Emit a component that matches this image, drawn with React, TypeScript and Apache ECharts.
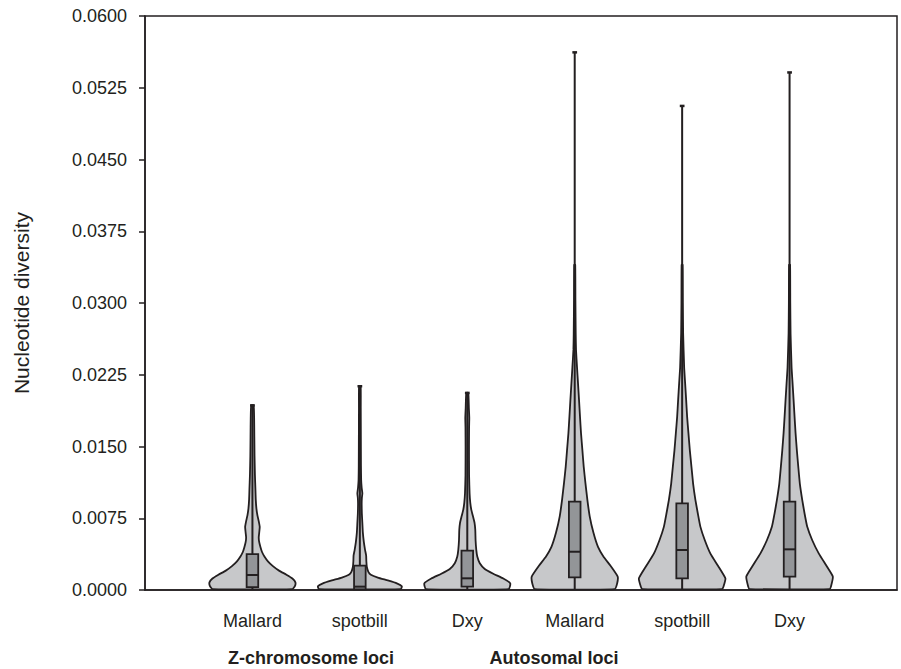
import { useEffect, useRef } from 'react';
import * as echarts from 'echarts';

// ---------- data ----------
const categories = ['Mallard', 'spotbill', 'Dxy', 'Mallard', 'spotbill', 'Dxy'];
const groupLabels = ['Z-chromosome loci', 'Autosomal loci'];
const yMin = 0;
const yMax = 0.06;
const yInterval = 0.0075;

// violin profiles: [nucleotide diversity, relative density]
const zMallardProfile: [number, number][] = [
  [0.0001, 40], [0.0004, 42.5], [0.0008, 43], [0.0012, 40], [0.0016, 34], [0.002, 27],
  [0.0025, 20.5], [0.003, 15.5], [0.0035, 12], [0.004, 9.5], [0.0045, 8], [0.005, 6.8],
  [0.0055, 6.3], [0.006, 6.8], [0.0066, 7.3], [0.0072, 6.3], [0.0078, 5], [0.0085, 4],
  [0.0095, 3.3], [0.0105, 3], [0.012, 2.5], [0.014, 2.1], [0.016, 1.9], [0.018, 1.7], [0.0193, 1.2],
];
const zSpotbillProfile: [number, number][] = [
  [0.0001, 41], [0.0004, 42], [0.0007, 37], [0.001, 28], [0.0013, 18], [0.0016, 11],
  [0.0019, 8.5], [0.0024, 7], [0.003, 6.5], [0.0036, 6.3], [0.0042, 5.2], [0.005, 4],
  [0.006, 3], [0.007, 2.5], [0.008, 2], [0.009, 1.8], [0.0096, 2], [0.0101, 2.5],
  [0.0107, 1.8], [0.0115, 1.3], [0.013, 1.1], [0.016, 1], [0.019, 0.9], [0.0213, 0.8],
];
const zDxyProfile: [number, number][] = [
  [0.0001, 41.5], [0.0007, 43], [0.0012, 36], [0.0017, 26], [0.0022, 17.5], [0.0028, 12.5],
  [0.0035, 10], [0.0042, 9], [0.0052, 8.3], [0.0063, 8], [0.007, 7.3], [0.0077, 5.7],
  [0.0084, 4], [0.0091, 3], [0.0101, 2.3], [0.012, 1.8], [0.015, 1.7], [0.017, 1.8],
  [0.018, 2], [0.019, 1.6], [0.0206, 1],
];
const aMallardProfile: [number, number][] = [
  [0.0001, 40], [0.0007, 42.5], [0.0014, 43], [0.0025, 36], [0.0035, 28.7], [0.0045, 23.3],
  [0.006, 18.7], [0.0077, 15], [0.0094, 12.7], [0.0112, 10.7], [0.0129, 9], [0.0146, 7.7],
  [0.0164, 6.3], [0.0181, 5.3], [0.0199, 4.3], [0.0216, 3.3], [0.0233, 2.3], [0.0251, 1.3],
  [0.0268, 1], [0.0303, 0.7], [0.034, 0.5],
];
const aSpotbillProfile: [number, number][] = [
  [0.0001, 40], [0.0004, 41.5], [0.0012, 43.3], [0.0025, 36], [0.0038, 28.3], [0.0052, 22.7],
  [0.0066, 18.3], [0.008, 15.7], [0.0094, 13.3], [0.0111, 11], [0.0129, 9.3], [0.0146, 7.7],
  [0.0164, 6.3], [0.0181, 5], [0.0199, 4], [0.0216, 3], [0.0233, 2], [0.0268, 1],
  [0.03, 0.7], [0.034, 0.5],
];
const aDxyProfile: [number, number][] = [
  [0.0001, 40], [0.0004, 41.5], [0.0014, 43.3], [0.0024, 37.7], [0.0038, 29.3], [0.0052, 22.7],
  [0.0066, 17.7], [0.008, 15], [0.0094, 12.7], [0.0111, 10.3], [0.0129, 8.7], [0.0146, 7.3],
  [0.0164, 6], [0.0181, 5], [0.0199, 4], [0.0216, 3], [0.0233, 2], [0.0268, 1],
  [0.03, 0.7], [0.034, 0.5],
];
const profiles = [zMallardProfile, zSpotbillProfile, zDxyProfile, aMallardProfile, aSpotbillProfile, aDxyProfile];

// box plot statistics
const boxMin = [0, 0, 0, 0, 0, 0];
const boxQ1 = [0.0003, 0.00007, 0.00035, 0.00133, 0.00122, 0.00139];
const boxMedian = [0.00157, 0.00035, 0.00122, 0.004, 0.00418, 0.00425];
const boxQ3 = [0.00376, 0.00254, 0.00411, 0.00923, 0.00906, 0.00923];
const boxMax = [0.0193, 0.0213, 0.0206, 0.0562, 0.0506, 0.0541];

// ---------- styling ----------
const INK = '#231f20';
const VIOLIN_FILL = '#c7c8ca';
const BOX_FILL = '#939598';
const FONT = 'Liberation Sans, Arial, Helvetica, sans-serif';
const DENSITY_SCALE = 0.4 / 43; // relative density -> x-axis units
const BOX_HALF = 0.054;
const CAP_HALF = 0.022;

export default function App() {
  const ref = useRef<HTMLDivElement>(null);
  useEffect(() => {
    if (!ref.current) return;
    const chart = echarts.init(ref.current, undefined, { renderer: 'svg' });

    const renderItem = (params: any, api: any) => {
      const idx = params.dataIndex;
      const pos = api.value(0);
      const prof = profiles[idx];
      const right = prof.map(([v, d]) => api.coord([pos + d * DENSITY_SCALE, v]));
      const left = prof.slice().reverse().map(([v, d]) => api.coord([pos - d * DENSITY_SCALE, v]));
      const points = right.concat(left);
      const pTop = api.coord([pos - BOX_HALF, boxQ3[idx]]);
      const pBot = api.coord([pos + BOX_HALF, boxQ1[idx]]);
      const med = api.value(1);
      const mL = api.coord([pos - BOX_HALF, med]);
      const mR = api.coord([pos + BOX_HALF, med]);
      const wTop = api.coord([pos, boxMax[idx]]);
      const wQ3 = api.coord([pos, boxQ3[idx]]);
      const wQ1 = api.coord([pos, boxQ1[idx]]);
      const wMin = api.coord([pos, boxMin[idx]]);
      const cL = api.coord([pos - CAP_HALF, boxMax[idx]]);
      const cR = api.coord([pos + CAP_HALF, boxMax[idx]]);
      return {
        type: 'group',
        children: [
          {
            type: 'polygon',
            shape: { points, smooth: 0.15 },
            style: { fill: VIOLIN_FILL, stroke: INK, lineWidth: 1.8 },
          },
          {
            type: 'line',
            shape: { x1: wQ3[0], y1: wQ3[1], x2: wTop[0], y2: wTop[1] },
            style: { stroke: INK, lineWidth: 2 },
          },
          {
            type: 'line',
            shape: { x1: wMin[0], y1: wMin[1], x2: wQ1[0], y2: wQ1[1] },
            style: { stroke: INK, lineWidth: 2 },
          },
          {
            type: 'line',
            shape: { x1: cL[0], y1: cL[1], x2: cR[0], y2: cR[1] },
            style: { stroke: INK, lineWidth: 2.5 },
          },
          {
            type: 'rect',
            shape: { x: pTop[0], y: pTop[1], width: pBot[0] - pTop[0], height: pBot[1] - pTop[1] },
            style: { fill: BOX_FILL, stroke: INK, lineWidth: 1.8 },
          },
          {
            type: 'line',
            shape: { x1: mL[0], y1: mL[1], x2: mR[0], y2: mR[1] },
            style: { stroke: INK, lineWidth: 2 },
          },
        ],
      };
    };

    chart.setOption({
      animation: false,
      backgroundColor: '#ffffff',
      grid: {
        left: 145,
        top: 16,
        right: 4,
        bottom: 79,
        show: true,
        borderColor: INK,
        borderWidth: 1.5,
        backgroundColor: 'transparent',
      },
      xAxis: {
        type: 'value',
        min: 0,
        max: categories.length + 1,
        interval: 1,
        axisLine: { show: true, lineStyle: { color: INK, width: 1.5 } },
        axisTick: { show: false },
        splitLine: { show: false },
        axisLabel: {
          show: true,
          margin: 22,
          fontSize: 18,
          color: INK,
          fontFamily: FONT,
          formatter: (v: number) => categories[Math.round(v) - 1] ?? '',
        },
      },
      yAxis: {
        type: 'value',
        min: yMin,
        max: yMax,
        interval: yInterval,
        name: 'Nucleotide diversity',
        nameLocation: 'middle',
        nameRotate: 90,
        nameGap: 113,
        nameTextStyle: { fontSize: 21, color: INK, fontFamily: FONT },
        axisLine: { show: true, lineStyle: { color: INK, width: 1.5 } },
        axisTick: { show: true, inside: false, length: 6, lineStyle: { color: INK, width: 1.5 } },
        splitLine: { show: false },
        axisLabel: {
          margin: 18,
          fontSize: 18,
          color: INK,
          fontFamily: FONT,
          formatter: (v: number) => v.toFixed(4),
        },
      },
      graphic: [
        {
          type: 'text',
          x: 311,
          y: 658,
          style: {
            text: groupLabels[0],
            font: `bold 18px ${FONT}`,
            fill: INK,
            textAlign: 'center',
            textVerticalAlign: 'middle',
          },
        },
        {
          type: 'text',
          x: 554,
          y: 658,
          style: {
            text: groupLabels[1],
            font: `bold 18px ${FONT}`,
            fill: INK,
            textAlign: 'center',
            textVerticalAlign: 'middle',
          },
        },
      ],
      series: [
        {
          type: 'custom',
          renderItem,
          clip: false,
          data: categories.map((_, i) => [i + 1, boxMedian[i]]),
        },
      ],
    });
    return () => chart.dispose();
  }, []);
  return <div ref={ref} style={{ position: 'fixed', left: 0, top: 0, width: 901, height: 669 }} />;
}
